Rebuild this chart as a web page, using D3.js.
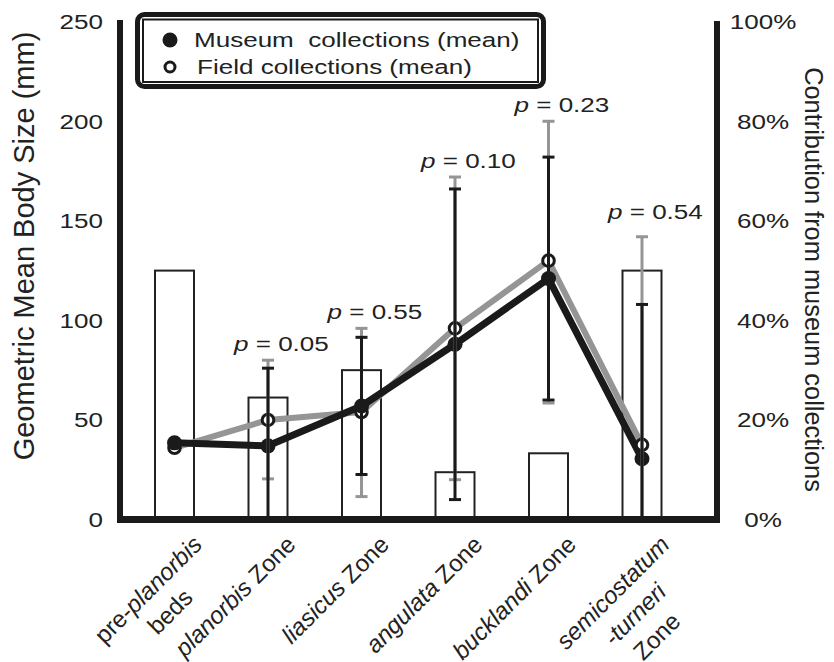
<!DOCTYPE html>
<html>
<head>
<meta charset="utf-8">
<script src="https://cdn.jsdelivr.net/npm/d3@7"></script>
<style>
  html, body { margin: 0; padding: 0; background: #fff; }
  svg { display: block; }
  text { fill: #222; }
</style>
</head>
<body>
<svg id="chart" width="834" height="662"></svg>
<script>
// ---------------- data ----------------
const categories = ["pre-planorbis beds", "planorbis Zone", "liasicus Zone", "angulata Zone", "bucklandi Zone", "semicostatum-turneri Zone"];
// tick label lines; *...* marks italic
const categoryLabels = [
  ["pre-*planorbis*", "beds"],
  ["*planorbis* Zone"],
  ["*liasicus* Zone"],
  ["*angulata* Zone"],
  ["*bucklandi* Zone"],
  ["*semicostatum*", "*-turneri*", "Zone"]
];
const museumMean  = [38.5, 37, 57, 88, 121, 30.5];
const fieldMean   = [36, 50, 54, 96, 130, 37.5];
const museumUpper = [null, 76, 91.5, 166, 182, 108];
const museumLower = [null, 0, 22.6, 10, 60, 0];
const fieldUpper  = [null, 80, 96, 172, 200, 142];
const fieldLower  = [null, 20.4, 11.5, 20, 58.5, 0];
const museumShare = [50, 24.5, 30, 9.5, 13.3, 50];   // % contribution (bars, right axis)
const pValues     = [null, "0.05", "0.55", "0.10", "0.23", "0.54"];
const leftTicks   = [0, 50, 100, 150, 200, 250];
const rightTicks  = [0, 20, 40, 60, 80, 100];
const legendLabels = ["Museum  collections (mean)", "Field collections (mean)"];

// ---------------- layout ----------------
const svg = d3.select("#chart");
const BLACK = "#1a1a1a", GRAY = "#959595";
const FONT = "'Liberation Sans', Arial, Helvetica, sans-serif";
const HS = 20.5;     // horizontal text size
const K = 1.27;      // horizontal stretch of horizontal texts

// stretch horizontal text horizontally about its anchor point
function stretch(sel) {
  sel.each(function () {
    const t = d3.select(this);
    const x0 = +(t.attr("x") || 0);
    const y0 = +(t.attr("y") || 0);
    t.attr("x", 0).attr("y", 0)
     .attr("transform", `translate(${x0},${y0}) scale(${K},1)`);
  });
}

const x = d3.scalePoint().domain(categories).range([174.5, 642]);
const y = d3.scaleLinear().domain([0, 250]).range([519.5, 21.7]);
const yPct = d3.scaleLinear().domain([0, 100]).range([519.5, 21.7]);

// bars
svg.append("g").selectAll("rect").data(categories).join("rect")
  .attr("x", d => x(d) - 19.5)
  .attr("width", 39)
  .attr("y", (d, i) => yPct(museumShare[i]))
  .attr("height", (d, i) => yPct(0) - yPct(museumShare[i]))
  .attr("fill", "#fff").attr("stroke", "#222").attr("stroke-width", 2);

// connecting lines
const lineGen = arr => d3.line().x((d, i) => x(categories[i])).y(d => y(d))(arr);
svg.append("path").attr("d", lineGen(fieldMean))
  .attr("fill", "none").attr("stroke", GRAY).attr("stroke-width", 6).attr("stroke-linejoin", "round");
svg.append("path").attr("d", lineGen(museumMean))
  .attr("fill", "none").attr("stroke", BLACK).attr("stroke-width", 7).attr("stroke-linejoin", "round");

// markers
svg.append("g").selectAll("circle").data(fieldMean).join("circle")
  .attr("cx", (d, i) => x(categories[i])).attr("cy", d => y(d)).attr("r", 5.8)
  .attr("fill", "#fff").attr("stroke", BLACK).attr("stroke-width", 3);
svg.append("g").selectAll("circle").data(museumMean).join("circle")
  .attr("cx", (d, i) => x(categories[i])).attr("cy", d => y(d)).attr("r", 7.5)
  .attr("fill", BLACK);

// error bars
function errorBars(upper, lower, color) {
  const g = svg.append("g").attr("stroke", color).attr("stroke-width", 3);
  categories.forEach((c, i) => {
    if (upper[i] == null) return;
    const cx = x(c);
    g.append("line").attr("x1", cx).attr("x2", cx).attr("y1", y(Math.max(lower[i], 0))).attr("y2", y(upper[i]));
    g.append("line").attr("x1", cx - 6).attr("x2", cx + 6).attr("y1", y(upper[i])).attr("y2", y(upper[i]));
    if (lower[i] > 0)
      g.append("line").attr("x1", cx - 6).attr("x2", cx + 6).attr("y1", y(lower[i])).attr("y2", y(lower[i]));
  });
}
errorBars(fieldUpper, fieldLower, GRAY);
errorBars(museumUpper, museumLower, BLACK);

// p-value labels
categories.forEach((c, i) => {
  if (pValues[i] == null) return;
  const top = Math.min(y(fieldUpper[i]), y(museumUpper[i]));
  const lift = i === categories.length - 1 ? 18 : 9;
  const t = svg.append("text").attr("class", "hz").attr("x", x(c) - 34).attr("y", top - lift)
    .attr("font-family", FONT).attr("font-size", HS).style("white-space", "pre");
  t.append("tspan").attr("font-style", "italic").text("p");
  t.append("tspan").text(" = " + pValues[i]);
});

// frame (axes lines)
svg.append("line").attr("x1", 120).attr("x2", 120).attr("y1", 20).attr("y2", 523)
  .attr("stroke", BLACK).attr("stroke-width", 6);
svg.append("line").attr("x1", 717).attr("x2", 717).attr("y1", 21).attr("y2", 523)
  .attr("stroke", BLACK).attr("stroke-width", 6);
svg.append("line").attr("x1", 117).attr("x2", 720).attr("y1", 519.5).attr("y2", 519.5)
  .attr("stroke", BLACK).attr("stroke-width", 7);

// left axis
const gl = svg.append("g").attr("transform", "translate(120,0)")
  .call(d3.axisLeft(y).tickValues(leftTicks).tickSize(0).tickPadding(17));
gl.select(".domain").remove();
gl.selectAll("text").attr("class", "hz").attr("font-family", FONT).attr("font-size", HS)
  .attr("fill", "#222").attr("dy", null).attr("dominant-baseline", "central");

// right axis
const gr = svg.append("g").attr("transform", "translate(717,0)")
  .call(d3.axisRight(yPct).tickValues(rightTicks).tickFormat(d => d + "%").tickSize(0));
gr.select(".domain").remove();
gr.selectAll("text").attr("class", "hz").attr("font-family", FONT).attr("font-size", HS).attr("fill", "#222")
  .attr("text-anchor", "middle").attr("x", 46).attr("dy", null).attr("dominant-baseline", "central");

// axis titles
svg.append("text").attr("transform", "translate(33.5,246) rotate(-90)")
  .attr("text-anchor", "middle").attr("font-family", FONT).attr("font-size", 29)
  .text("Geometric Mean Body Size (mm)");
svg.append("text").attr("transform", "translate(805,279.5) rotate(90)")
  .attr("text-anchor", "middle").attr("font-family", FONT).attr("font-size", 25.4)
  .text("Contribution from museum collections");

// category labels (rotated, centered multi-line)
function addSegments(textSel, str) {
  str.split(/(\*[^*]+\*)/).filter(s => s.length).forEach(s => {
    if (s.startsWith("*")) textSel.append("tspan").attr("font-style", "italic").text(s.slice(1, -1));
    else textSel.append("tspan").text(s);
  });
}
categories.forEach((c, i) => {
  const g = svg.append("g").attr("transform", `translate(${x(c) + 29},546) rotate(-45)`)
    .attr("font-family", FONT).attr("font-size", 24);
  const lines = categoryLabels[i];
  const texts = lines.map((ln, j) => {
    const t = g.append("text").attr("y", j * 31).attr("text-anchor", "middle").style("white-space", "pre");
    addSegments(t, ln);
    return t;
  });
  const w0 = texts[0].node().getComputedTextLength();
  texts.forEach(t => t.attr("x", -w0 / 2));
});

// legend
const lg = svg.append("g");
lg.append("rect").attr("x", 137.5).attr("y", 14.5).attr("width", 406).attr("height", 72)
  .attr("rx", 7).attr("fill", "#fff").attr("stroke", BLACK).attr("stroke-width", 5);
lg.append("rect").attr("x", 143).attr("y", 19.5).attr("width", 395).attr("height", 62.5)
  .attr("fill", "none").attr("stroke", BLACK).attr("stroke-width", 2);
lg.append("circle").attr("cx", 170).attr("cy", 40).attr("r", 7.5).attr("fill", BLACK);
lg.append("circle").attr("cx", 170).attr("cy", 67).attr("r", 5).attr("fill", "#fff")
  .attr("stroke", BLACK).attr("stroke-width", 3);
lg.selectAll("text.leg").data(legendLabels).join("text").attr("class", "leg hz")
  .attr("x", (d, i) => i === 0 ? 194 : 197).attr("y", (d, i) => i === 0 ? 47 : 74)
  .attr("font-family", FONT).attr("font-size", HS).style("white-space", "pre")
  .text(d => d);

// apply horizontal stretch to horizontal texts
stretch(svg.selectAll("text.hz"));
</script>
</body>
</html>
